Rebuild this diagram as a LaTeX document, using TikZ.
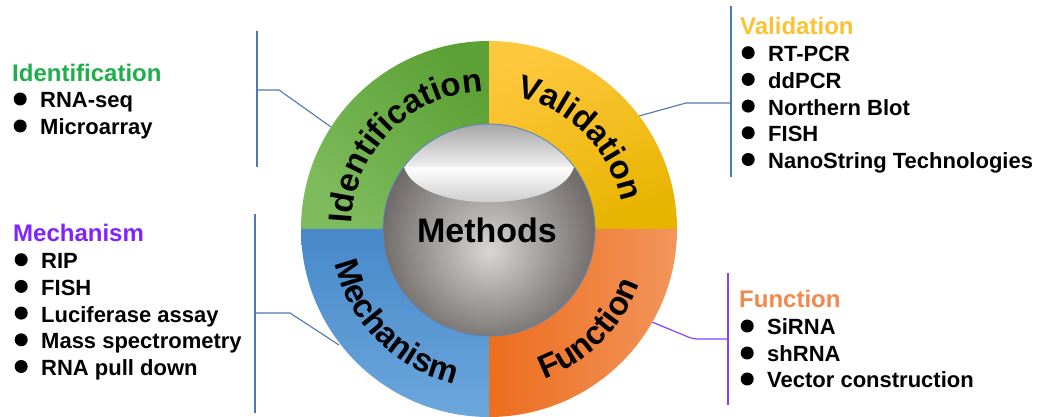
\documentclass[tikz,border=0pt]{standalone}
\usepackage{fontspec}
\setmainfont{Liberation Sans}
\usetikzlibrary{decorations.text}

% palette
\definecolor{idgreen}{HTML}{1FAF4A}
\definecolor{mechpurple}{HTML}{7F24FC}
\definecolor{valyellow}{HTML}{FCC233}
\definecolor{funcorange}{HTML}{F4874B}
\definecolor{linkblue}{HTML}{4D78B0}
\definecolor{linkpurple}{HTML}{8A3FFC}
\definecolor{greenA}{HTML}{7EBB5D}
\definecolor{greenB}{HTML}{5CA135}
\definecolor{yellowA}{HTML}{FEC83E}
\definecolor{yellowB}{HTML}{E7B400}
\definecolor{orangeA}{HTML}{EC6D1D}
\definecolor{orangeB}{HTML}{F2955C}
\definecolor{blueA}{HTML}{4788CA}
\definecolor{blueB}{HTML}{6CA7DC}
\definecolor{sphereA}{HTML}{D9D7D5}
\definecolor{sphereB}{HTML}{B2AFAD}
\definecolor{sphereC}{HTML}{6B6664}
\definecolor{capTop}{HTML}{A4A4A4}
\definecolor{capBottom}{HTML}{F0F0F0}
\definecolor{lensBottom}{HTML}{BDBDBD}
\definecolor{rimblue}{HTML}{5A85BE}

% shading of the central ball, light spot a little below the middle
\pgfdeclareradialshading{ballshade}{\pgfpoint{0bp}{-5bp}}{%
  color(0bp)=(sphereA); color(9bp)=(sphereB); color(27bp)=(sphereC); color(50bp)=(sphereC)}

\newcommand{\ringfont}{\bfseries\fontsize{33}{33}\selectfont}
\newcommand{\bulletdot}{\tikz[baseline=0pt]\fill (6.5pt,9pt) circle[radius=6.5pt];}
\newcommand{\itm}{\makebox[28pt][l]{\hspace{1.5pt}\bulletdot}}

\tikzset{
  titletext/.style={anchor=base west, inner sep=0pt, font=\bfseries\fontsize{24}{28}\selectfont},
  itemtext/.style={anchor=base west, inner sep=0pt, font=\bfseries\fontsize{22}{26}\selectfont},
  bracket/.style={draw=linkblue, line width=1.1pt},
  fbracket/.style={draw=linkpurple, line width=1.2pt, rounded corners=4pt},
  ringlabel/.style={decorate, decoration={text along path, text align=center, text={|\ringfont|#1}}}
}

\begin{document}
\begin{tikzpicture}[x=1pt, y=1pt]
\useasboundingbox (0,0) rectangle (1037,417);

% ---- connector brackets ----
\coordinate (idTop) at (257,386);  \coordinate (idBot) at (257,250);
\coordinate (idJoin) at (257,327); \coordinate (idKnee) at (279,327);
\coordinate (idRing) at (331,290);
\draw[bracket] (idTop) -- (idBot);
\draw[bracket] (idJoin) -- (idKnee) -- (idRing);

\coordinate (meTop) at (255,203);  \coordinate (meBot) at (255,4);
\coordinate (meJoin) at (255,104); \coordinate (meKnee) at (290,104);
\coordinate (meRing) at (339,72);
\draw[bracket] (meTop) -- (meBot);
\draw[bracket] (meJoin) -- (meKnee) -- (meRing);

\coordinate (vaTop) at (731,411);  \coordinate (vaBot) at (731,240);
\coordinate (vaJoin) at (731,314); \coordinate (vaKnee) at (686,314);
\coordinate (vaRing) at (639,301);
\draw[bracket] (vaTop) -- (vaBot);
\draw[bracket] (vaJoin) -- (vaKnee) -- (vaRing);

\coordinate (fuTop) at (728,144);  \coordinate (fuBot) at (728,12);
\coordinate (fuJoin) at (728,78);  \coordinate (fuKnee) at (693,78);
\coordinate (fuRing) at (652,95);
\draw[fbracket, rounded corners=0pt] (fuTop) -- (fuBot);
\draw[fbracket] (fuJoin) -- (fuKnee) -- (fuRing);

% ---- ring quadrants ----
\shade[top color=greenB, bottom color=greenA, shading angle=-45]
  (489,188) -- (301,188) arc[start angle=180, end angle=90, radius=188] -- cycle;
\shade[top color=yellowA, bottom color=yellowB, shading angle=20]
  (489,188) -- (489,376) arc[start angle=90, end angle=0, radius=188] -- cycle;
\shade[left color=orangeA, right color=orangeB]
  (489,188) -- (677,188) arc[start angle=0, end angle=-90, radius=188] -- cycle;
\shade[top color=blueA, bottom color=blueB]
  (489,188) -- (489,0) arc[start angle=270, end angle=180, radius=188] -- cycle;

% ---- central ball ----
\shade[shading=ballshade] (489,187) circle[radius=106];
\begin{scope}
  \clip (489,187) circle[radius=106];
  \shade[top color=capTop, bottom color=capBottom] (380,250) rectangle (598,294);
\end{scope}
\shade[top color=white, bottom color=lensBottom]
  (404,250) .. controls (418,203) and (560,203) .. (574,250) -- cycle;
\draw[rimblue, line width=0.8pt] (489,187) circle[radius=106];

\node[font=\bfseries\fontsize{34}{40}\selectfont, inner sep=0pt] (methods) at (487,187) {Methods};

% ---- curved quadrant labels ----
\path[ringlabel=Identification] (351,188) arc[start angle=180, end angle=90, radius=138];
\path[ringlabel=Validation] (489,323) arc[start angle=90, end angle=0, radius=135];
\path[ringlabel=Function] (489,28) arc[start angle=270, end angle=360, radius=160];
\path[ringlabel=Mechanism] (331,188) arc[start angle=180, end angle=270, radius=158];

% ---- method lists ----
\node[titletext, text=idgreen] (idTitle) at (12,335) {Identification};
\node[itemtext] (id1) at (12,309) {\itm RNA-seq};
\node[itemtext] (id2) at (12,282) {\itm Microarray};

\node[titletext, text=mechpurple] (meTitle) at (13,175) {Mechanism};
\node[itemtext] (me1) at (13,148.3) {\itm RIP};
\node[itemtext] (me2) at (13,121.6) {\itm FISH};
\node[itemtext] (me3) at (13,94.9) {\itm Luciferase assay};
\node[itemtext] (me4) at (13,68.2) {\itm Mass spectrometry};
\node[itemtext] (me5) at (13,41.5) {\itm RNA pull down};

\node[titletext, text=valyellow] (vaTitle) at (740,382) {Validation};
\node[itemtext] (va1) at (740,355.3) {\itm RT-PCR};
\node[itemtext] (va2) at (740,328.6) {\itm ddPCR};
\node[itemtext] (va3) at (740,301.9) {\itm Northern Blot};
\node[itemtext] (va4) at (740,275.2) {\itm FISH};
\node[itemtext] (va5) at (740,248.5) {\itm NanoString Technologies};

\node[titletext, text=funcorange] (fuTitle) at (739,109) {Function};
\node[itemtext] (fu1) at (739,82) {\itm SiRNA};
\node[itemtext] (fu2) at (739,55) {\itm shRNA};
\node[itemtext] (fu3) at (739,29) {\itm Vector construction};
\end{tikzpicture}
\end{document}
